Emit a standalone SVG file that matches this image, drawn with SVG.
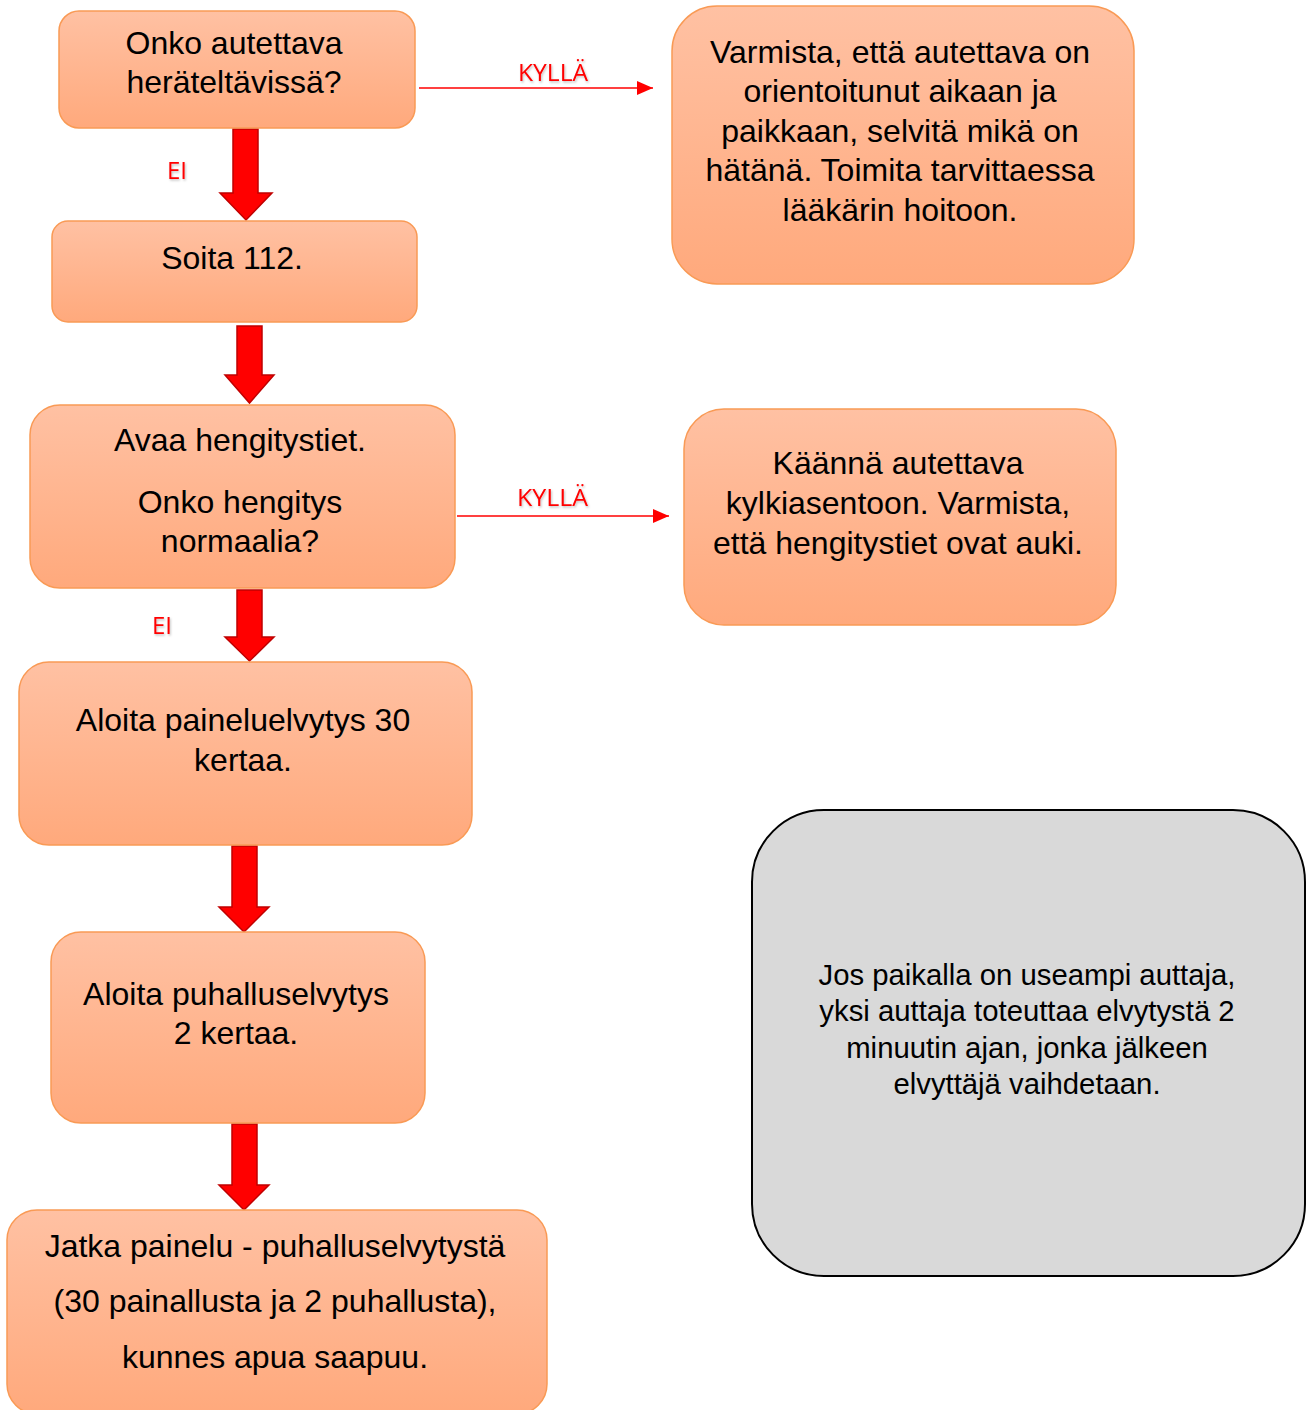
<svg xmlns="http://www.w3.org/2000/svg" width="1307" height="1410" viewBox="0 0 1307 1410">
<defs>
<linearGradient id="og" x1="0" y1="0" x2="0" y2="1">
<stop offset="0" stop-color="#FFC1A3"/>
<stop offset="1" stop-color="#FFA97C"/>
</linearGradient>
<marker id="ah" viewBox="0 0 16 14" refX="16" refY="7" markerWidth="16" markerHeight="14" markerUnits="userSpaceOnUse" orient="auto">
<path d="M0,0 L16,7 L0,14 Z" fill="#FF0000"/>
</marker>
<filter id="sh" x="-20%" y="-20%" width="140%" height="160%">
<feDropShadow dx="1" dy="1.5" stdDeviation="1" flood-color="#000" flood-opacity="0.25"/>
</filter>
</defs>
<style>
.box{fill:url(#og);stroke:#F99A55;stroke-width:1.5}
.t{font-family:"Liberation Sans",Arial,sans-serif;font-size:32px;fill:#000;text-anchor:middle}
.g{font-family:"Liberation Sans",Arial,sans-serif;font-size:29.3px;fill:#000;text-anchor:middle}
.lbl{font-family:"Open Sans","Noto Sans",sans-serif;font-size:24px;fill:#FF0000;filter:url(#sh)}
.blk{fill:#FF0000;stroke:#C00000;stroke-width:1.5;stroke-linejoin:miter}
.ln{stroke:#FF0000;stroke-width:1.5;fill:none}
</style>
<rect width="1307" height="1410" fill="#FFFFFF"/>

<g id="connectors">
<path class="blk" d="M233,129 L258,129 L258,193 L272,193 L246,220 L220,193 L233,193 Z"/>
<path class="blk" d="M237,326 L262,326 L262,375 L274,375 L249.5,403 L225,375 L237,375 Z"/>
<path class="blk" d="M237,590 L262,590 L262,637 L274,637 L249.5,661 L225,637 L237,637 Z"/>
<path class="blk" d="M232,846 L257,846 L257,907 L269,907 L244,932 L219,907 L232,907 Z"/>
<path class="blk" d="M232,1124 L257,1124 L257,1185 L269,1185 L244,1210 L219,1185 L232,1185 Z"/>
<line class="ln" x1="419" y1="88" x2="653" y2="88" marker-end="url(#ah)"/>
<line class="ln" x1="457" y1="516" x2="669" y2="516" marker-end="url(#ah)"/>
<text class="lbl" x="167" y="179" textLength="20" lengthAdjust="spacingAndGlyphs">EI</text>
<text class="lbl" x="152" y="634" textLength="20" lengthAdjust="spacingAndGlyphs">EI</text>
<text class="lbl" x="518" y="81" textLength="70" lengthAdjust="spacingAndGlyphs">KYLLÄ</text>
<text class="lbl" x="517" y="506" textLength="71" lengthAdjust="spacingAndGlyphs">KYLLÄ</text>
</g>

<g id="n1">
<rect class="box" x="59" y="11" width="356" height="117" rx="20"/>
<text class="t" x="234" y="54">Onko autettava</text>
<text class="t" x="234" y="93">heräteltävissä?</text>
</g>

<g id="n2">
<rect class="box" x="52" y="221" width="365" height="101" rx="16"/>
<text class="t" x="232" y="269">Soita 112.</text>
</g>

<g id="n3">
<rect class="box" x="30" y="405" width="425" height="183" rx="30"/>
<text class="t" x="240" y="451">Avaa hengitystiet.</text>
<text class="t" x="240" y="513">Onko hengitys</text>
<text class="t" x="240" y="552">normaalia?</text>
</g>

<g id="n4">
<rect class="box" x="19" y="662" width="453" height="183" rx="30"/>
<text class="t" x="243" y="731">Aloita paineluelvytys 30</text>
<text class="t" x="243" y="771">kertaa.</text>
</g>

<g id="n5">
<rect class="box" x="51" y="932" width="374" height="191" rx="30"/>
<text class="t" x="236" y="1005">Aloita puhalluselvytys</text>
<text class="t" x="236" y="1044">2 kertaa.</text>
</g>

<g id="n6">
<rect class="box" x="7" y="1210" width="540" height="204" rx="30"/>
<text class="t" x="275" y="1257">Jatka painelu - puhalluselvytystä</text>
<text class="t" x="275" y="1312">(30 painallusta ja 2 puhallusta),</text>
<text class="t" x="275" y="1368">kunnes apua saapuu.</text>
</g>

<g id="r1">
<rect class="box" x="672" y="6" width="462" height="278" rx="45"/>
<text class="t" x="900" y="63">Varmista, että autettava on</text>
<text class="t" x="900" y="102">orientoitunut aikaan ja</text>
<text class="t" x="900" y="142">paikkaan, selvitä mikä on</text>
<text class="t" x="900" y="181">hätänä. Toimita tarvittaessa</text>
<text class="t" x="900" y="221">lääkärin hoitoon.</text>
</g>

<g id="r2">
<rect class="box" x="684" y="409" width="432" height="216" rx="40"/>
<text class="t" x="898" y="474">Käännä autettava</text>
<text class="t" x="898" y="514">kylkiasentoon. Varmista,</text>
<text class="t" x="898" y="554">että hengitystiet ovat auki.</text>
</g>

<g id="note">
<rect x="752" y="810" width="553" height="466" rx="72" fill="#D9D9D9" stroke="#000" stroke-width="2"/>
<text class="g" x="1027" y="985">Jos paikalla on useampi auttaja,</text>
<text class="g" x="1027" y="1021">yksi auttaja toteuttaa elvytystä 2</text>
<text class="g" x="1027" y="1058">minuutin ajan, jonka jälkeen</text>
<text class="g" x="1027" y="1094">elvyttäjä vaihdetaan.</text>
</g>
</svg>
